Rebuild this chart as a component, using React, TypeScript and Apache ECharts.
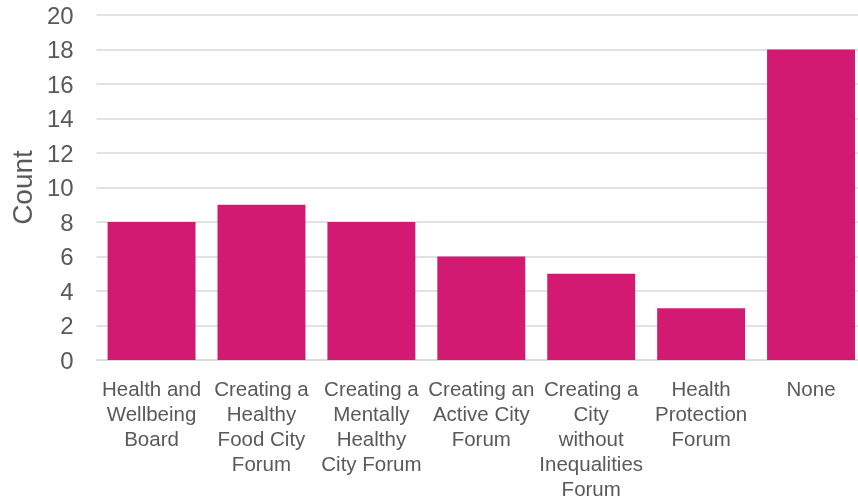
import React, { useEffect, useRef } from "react";
import * as echarts from "echarts";

const categories = [
  "Health and Wellbeing Board",
  "Creating a Healthy Food City Forum",
  "Creating a Mentally Healthy City Forum",
  "Creating an Active City Forum",
  "Creating a City without Inequalities Forum",
  "Health Protection Forum",
  "None",
];
const wrappedLabels = [
  "Health and\nWellbeing\nBoard",
  "Creating a\nHealthy\nFood City\nForum",
  "Creating a\nMentally\nHealthy\nCity Forum",
  "Creating an\nActive City\nForum",
  "Creating a\nCity\nwithout\nInequalities\nForum",
  "Health\nProtection\nForum",
  "None",
];
const counts = [8, 9, 8, 6, 5, 3, 18];
const yTicks = { min: 0, max: 20, interval: 2 };

export default function App() {
  const ref = useRef<HTMLDivElement>(null);
  useEffect(() => {
    const chart = echarts.init(ref.current!, undefined, { renderer: "svg" });
    const font = "Liberation Sans, Arial, sans-serif";
    chart.setOption({
      animation: false,
      grid: { left: 94, right: 0, top: 15, bottom: 139.5, containLabel: false },
      xAxis: {
        type: "category",
        data: categories,
        axisLine: { lineStyle: { color: "#D9D9D9", width: 1.5 } },
        axisTick: { show: false },
        axisLabel: {
          interval: 0,
          margin: 16,
          color: "#595959",
          fontFamily: font,
          fontSize: 20.5,
          lineHeight: 25,
          formatter: (_v: string, i: number) => wrappedLabels[i],
        },
      },
      yAxis: {
        type: "value",
        min: yTicks.min,
        max: yTicks.max,
        interval: yTicks.interval,
        name: "Count",
        nameLocation: "middle",
        nameGap: 59,
        nameTextStyle: { color: "#595959", fontFamily: font, fontSize: 28 },
        axisLine: { show: false },
        axisTick: { show: false },
        axisLabel: { color: "#595959", fontFamily: font, fontSize: 24, margin: 23 },
        splitLine: { lineStyle: { color: "#D9D9D9", width: 1.5 } },
      },
      series: [
        {
          type: "bar",
          data: counts,
          barWidth: "80%",
          itemStyle: { color: "#D31A72" },
        },
      ],
    });
    return () => chart.dispose();
  }, []);
  return (
    <div
      style={{ position: "fixed", left: 0, top: 0, width: 858, height: 501, overflow: "hidden" }}
    >
      <div ref={ref} style={{ width: 866, height: 501 }} />
    </div>
  );
}
